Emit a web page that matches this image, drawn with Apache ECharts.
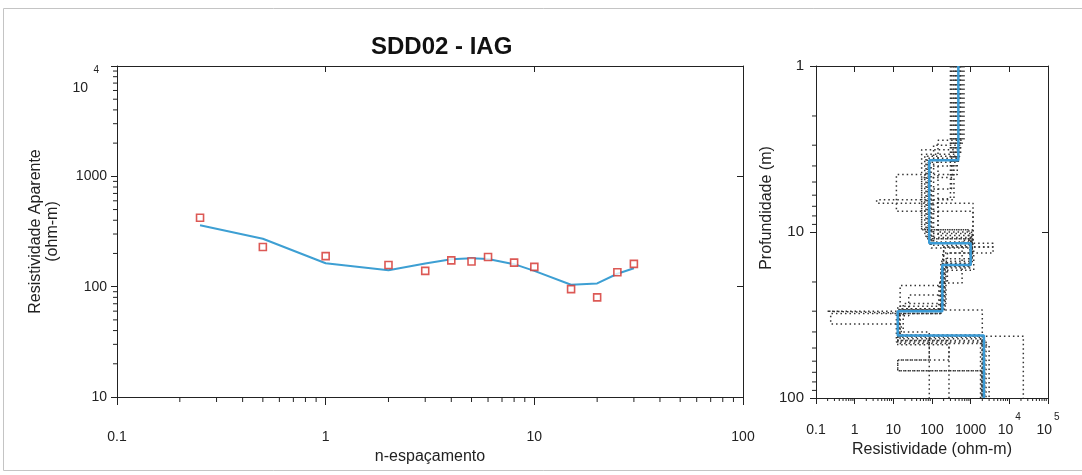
<!DOCTYPE html>
<html>
<head>
<meta charset="utf-8">
<script src="https://cdn.jsdelivr.net/npm/echarts@6/dist/echarts.min.js"></script>
<style>
html,body{margin:0;padding:0;background:#fff;}
#chart{width:1082px;height:475px;}
</style>
</head>
<body>
<div id="chart"></div>
<script>
// ---- Sounding curve (left panel) ----
const spacing = [0.25, 0.5, 1, 2, 3, 4, 5, 6, 8, 10, 15, 20, 25, 30];
const observedRes = [421, 229, 189, 157, 139, 173, 169, 186, 165, 151, 95, 80, 135, 161];
const calculatedRes = [360, 272, 163, 141, 162, 177, 181, 178, 160, 139, 104, 107, 131, 147];

// ---- Layered model (right panel) ----
const bestRho = [480, 85, 1000, 185, 13, 2200];
const bestBottom = [3.7, 11.7, 15.8, 30, 42, 100];

// equivalent models (dotted)
const equivRho = [
  [300, 143, 1000, 200, 15, 2000],
  [370, 3.7, 1150, 3800, 190, 0.19, 13, 23000],
  [525, 54, 1100, 180, 14.8, 2000],
  [670, 143, 1050, 170, 0.24, 16, 2100],
  [450, 12, 1150, 600, 150, 13, 275, 13, 2000],
  [400, 90, 950, 220, 13, 85],
  [520, 75, 1000, 190, 13, 275],
  [350, 54, 900, 200, 15, 2000],
  [600, 110, 1100, 250, 160, 12, 2500],
  [480, 80, 1000, 190, 14, 2300],
  [320, 100, 3800, 200, 25, 13, 1800],
  [550, 65, 1100, 230, 18, 85, 13, 1900],
  [420, 95, 1200, 170, 13, 2200],
  [500, 70, 1000, 210, 13, 2000, 3000]
];
const equivBottom = [
  [6.3, 10.5, 16.5, 29, 44, 100],
  [6.4, 6.7, 12.3, 13.4, 30, 30.8, 42.4, 100],
  [3.2, 9.7, 15.4, 29.5, 41.8, 100],
  [2.8, 10, 15, 31, 35.8, 45, 100],
  [4.5, 7.5, 11.2, 20.3, 30, 47.8, 59, 68.6, 100],
  [3.7, 12, 16, 28, 42, 100],
  [3.5, 11, 15.5, 30, 45, 100],
  [4.7, 9.7, 12.3, 21, 29.5, 100],
  [3.0, 11.5, 13.4, 20, 31, 46, 100],
  [3.8, 10.8, 16.2, 29, 43, 100],
  [5.5, 11.7, 12.3, 24, 32, 42, 100],
  [3.4, 10.2, 14.5, 27, 40, 59, 68.6, 100],
  [4.0, 12.5, 17, 31, 47, 100],
  [3.6, 11, 16, 29.5, 42, 48, 100]
];

const titleText = 'SDD02 - IAG';

// ---- helpers ----
function stepPoints(rho, bottoms, topDepth) {
  const pts = [];
  let top = topDepth;
  for (let i = 0; i < rho.length; i++) {
    pts.push([rho[i], top]);
    pts.push([rho[i], bottoms[i]]);
    top = bottoms[i];
  }
  return pts;
}
function logMinor(minExp, maxExp) {
  const out = [];
  for (let e = minExp; e < maxExp; e++) {
    for (let k = 2; k <= 9; k++) out.push(+(k * Math.pow(10, e)).toPrecision(6));
  }
  return out;
}
function tickRenderer(dir, len) {
  return function (params, api) {
    const p = api.coord([api.value(0), api.value(1)]);
    let x2 = p[0], y2 = p[1];
    if (dir === 'down') y2 += len;
    else if (dir === 'up') y2 -= len;
    else if (dir === 'left') x2 -= len;
    else x2 += len;
    return { type: 'line', shape: { x1: p[0], y1: p[1], x2: x2, y2: y2 },
             style: { stroke: '#222', lineWidth: 1 } };
  };
}
function expOf(v) { return Math.round(Math.log(v) / Math.LN10); }
function plainLog(v) {
  const e = expOf(v);
  if (e < 0) return '0.' + '0'.repeat(-e - 1) + '1';
  return String(Math.round(Math.pow(10, e)));
}

const FONT = 'Liberation Sans, Arial, Helvetica, sans-serif';
const AX = '#222';

const chart = echarts.init(document.getElementById('chart'), null, { renderer: 'canvas' });

const series = [];

// minor ticks (left panel)
series.push({ type: 'custom', xAxisIndex: 0, yAxisIndex: 0, clip: false, silent: true,
  renderItem: tickRenderer('down', 5), data: logMinor(-1, 2).map(v => [v, 10]) });
series.push({ type: 'custom', xAxisIndex: 0, yAxisIndex: 0, clip: false, silent: true,
  renderItem: tickRenderer('left', 4), data: logMinor(1, 4).map(v => [0.1, v]) });
// minor ticks (right panel)
series.push({ type: 'custom', xAxisIndex: 2, yAxisIndex: 2, clip: false, silent: true,
  renderItem: tickRenderer('down', 3), data: logMinor(-1, 5).map(v => [v, 100]) });
series.push({ type: 'custom', xAxisIndex: 2, yAxisIndex: 2, clip: false, silent: true,
  renderItem: tickRenderer('left', 4), data: logMinor(0, 2).map(v => [0.1, v]) });

// left panel data
series.push({
  type: 'line', xAxisIndex: 0, yAxisIndex: 0, showSymbol: false, z: 3,
  lineStyle: { color: '#3d9fd3', width: 2 },
  data: spacing.map((x, i) => [x, calculatedRes[i]])
});
series.push({
  type: 'scatter', xAxisIndex: 0, yAxisIndex: 0, symbol: 'rect', symbolSize: 7, z: 4,
  itemStyle: { color: '#fff', borderColor: '#d3302a', borderWidth: 1.6 },
  data: spacing.map((x, i) => [x, observedRes[i]])
});

// right panel: equivalent models
equivRho.forEach((rho, m) => {
  series.push({
    type: 'line', xAxisIndex: 2, yAxisIndex: 2, showSymbol: false, z: 2,
    lineStyle: { color: '#333', width: 1.5, type: [1.5, 3] },
    data: stepPoints(rho, equivBottom[m], 1)
  });
});
// best model
series.push({
  type: 'line', xAxisIndex: 2, yAxisIndex: 2, showSymbol: false, z: 5,
  lineStyle: { color: '#3a9bd6', width: 2.5 },
  data: stepPoints(bestRho, bestBottom, 1)
});

const baseLine = { show: true, lineStyle: { color: AX, width: 1 } };

chart.setOption({
  animation: false,
  backgroundColor: 'transparent',
  title: {
    text: titleText, left: 366, top: 30,
    textStyle: { fontFamily: FONT, fontSize: 24, fontWeight: 'bold', color: '#111' }
  },
  graphic: [{
    type: 'rect', z: -10, silent: true,
    shape: { x: 3.5, y: 8.5, width: 1090, height: 462 },
    style: { fill: '#fff', stroke: '#c4c4c4', lineWidth: 1 }
  }],
  grid: [
    { left: 117, top: 66, width: 626, height: 331 },
    { left: 816, top: 66, width: 232, height: 332 }
  ],
  xAxis: [
    { gridIndex: 0, type: 'log', logBase: 10, min: 0.1, max: 100, position: 'bottom',
      axisLine: baseLine, splitLine: { show: false },
      axisTick: { show: true, inside: false, length: 8, lineStyle: { color: AX } },
      axisLabel: { margin: 33, fontFamily: FONT, fontSize: 14, color: '#222', showMinLabel: true, showMaxLabel: true,
        formatter: v => plainLog(v) },
      name: 'n-espaçamento', nameLocation: 'middle', nameGap: 51,
      nameTextStyle: { fontFamily: FONT, fontSize: 16, color: '#222' } },
    { gridIndex: 0, type: 'log', logBase: 10, min: 0.1, max: 100, position: 'top',
      axisLine: baseLine, splitLine: { show: false },
      axisTick: { show: true, inside: true, length: 6, lineStyle: { color: AX } },
      axisLabel: { show: false } },
    { gridIndex: 1, type: 'log', logBase: 10, min: 0.1, max: 100000, position: 'bottom', splitNumber: 6,
      axisLine: baseLine, splitLine: { show: false },
      axisTick: { show: true, inside: false, length: 6, lineStyle: { color: AX } },
      axisLabel: { margin: 14, fontFamily: FONT, fontSize: 14, color: '#222', showMinLabel: true, showMaxLabel: true,
        formatter: function (v) {
          const e = expOf(v);
          if (e >= 4) return '{b|10}{s|' + e + '}';
          return '{b|' + plainLog(v) + '}';
        },
        rich: {
          b: { fontFamily: FONT, fontSize: 14, color: '#222', lineHeight: 36 },
          s: { fontFamily: FONT, fontSize: 10, color: '#222', lineHeight: 12, verticalAlign: 'top', padding: [0, 0, 0, 2] }
        } },
      name: 'Resistividade (ohm-m)', nameLocation: 'middle', nameGap: 43,
      nameTextStyle: { fontFamily: FONT, fontSize: 16, color: '#222' } },
    { gridIndex: 1, type: 'log', logBase: 10, min: 0.1, max: 100000, position: 'top', splitNumber: 6,
      axisLine: baseLine, splitLine: { show: false },
      axisTick: { show: true, inside: true, length: 6, lineStyle: { color: AX } },
      axisLabel: { show: false } }
  ],
  yAxis: [
    { gridIndex: 0, type: 'log', logBase: 10, min: 10, max: 10000, position: 'left',
      axisLine: baseLine, splitLine: { show: false },
      axisTick: { show: true, inside: false, length: 6, lineStyle: { color: AX } },
      axisLabel: { margin: 10, fontFamily: FONT, fontSize: 14, color: '#222', showMinLabel: true, showMaxLabel: true,
        formatter: function (v) {
          const e = expOf(v);
          if (e >= 4) return '{e| }\n{s|' + e + '}\n{b|10}{sp| }';
          return '{b|' + plainLog(v) + '}';
        },
        rich: {
          e: { fontSize: 10, lineHeight: 28 },
          s: { fontFamily: FONT, fontSize: 10, color: '#222', lineHeight: 16, padding: [0, 8, 0, 0] },
          b: { fontFamily: FONT, fontSize: 14, color: '#222', lineHeight: 20 },
          sp: { fontSize: 10, width: 19 }
        } },
      name: 'Resistividade Aparente\n(ohm-m)', nameLocation: 'middle', nameGap: 52,
      nameTextStyle: { fontFamily: FONT, fontSize: 16, color: '#222', lineHeight: 17 } },
    { gridIndex: 0, type: 'log', logBase: 10, min: 10, max: 10000, position: 'right',
      axisLine: baseLine, splitLine: { show: false },
      axisTick: { show: true, inside: true, length: 6, lineStyle: { color: AX } },
      axisLabel: { show: false } },
    { gridIndex: 1, type: 'log', logBase: 10, min: 1, max: 100, inverse: true, position: 'left',
      axisLine: baseLine, splitLine: { show: false },
      axisTick: { show: true, inside: false, length: 6, lineStyle: { color: AX } },
      axisLabel: { margin: 12, fontFamily: FONT, fontSize: 15, color: '#222', showMinLabel: true, showMaxLabel: true,
        formatter: v => plainLog(v) },
      name: 'Profundidade (m)', nameLocation: 'middle', nameGap: 34,
      nameTextStyle: { fontFamily: FONT, fontSize: 16, color: '#222', padding: [0, 0, 0, 48] } },
    { gridIndex: 1, type: 'log', logBase: 10, min: 1, max: 100, inverse: true, position: 'right',
      axisLine: baseLine, splitLine: { show: false },
      axisTick: { show: true, inside: true, length: 6, lineStyle: { color: AX } },
      axisLabel: { show: false } }
  ],
  series: series
});
</script>
</body>
</html>
